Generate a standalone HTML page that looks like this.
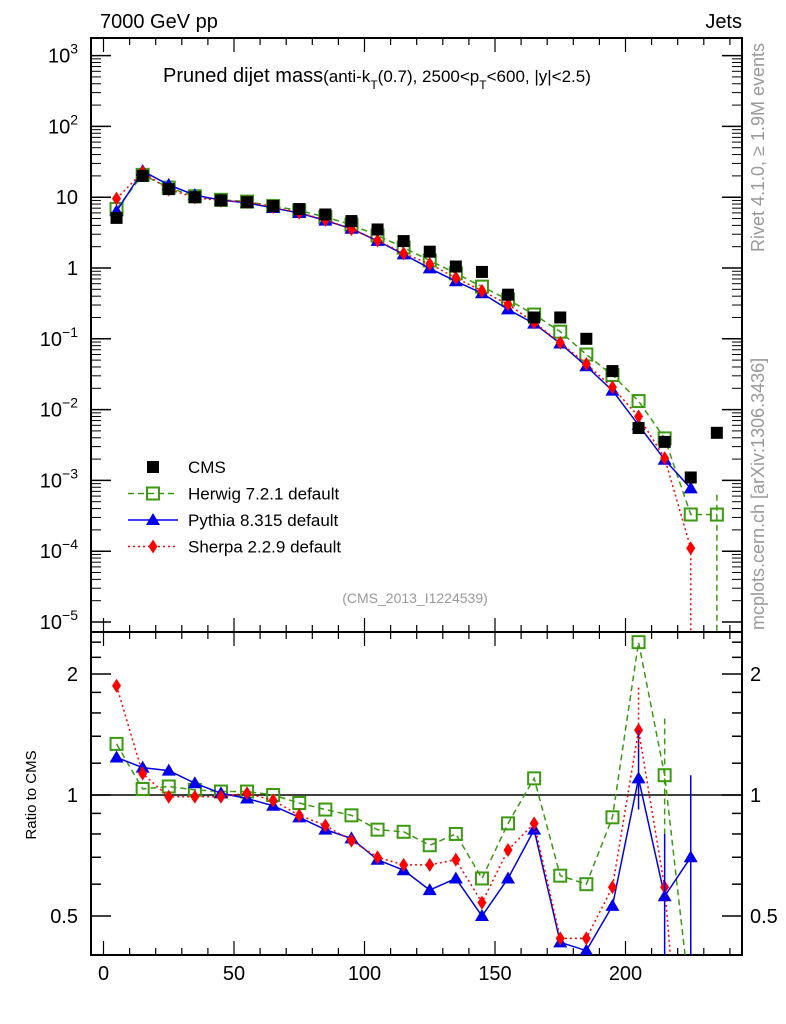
<!DOCTYPE html>
<html><head><meta charset="utf-8"><style>
html,body{margin:0;background:#fff;overflow:hidden;width:786px;height:1024px}
svg{display:block;font-family:"Liberation Sans",sans-serif}
</style></head><body>
<svg id="c" width="786" height="1024" xmlns="http://www.w3.org/2000/svg">
<text x="100" y="28" font-size="20">7000 GeV pp</text>
<text x="742" y="28" font-size="20" text-anchor="end">Jets</text>
<text x="163" y="82" font-size="20">Pruned dijet mass<tspan font-size="17">(anti-k<tspan baseline-shift="sub" font-size="12">T</tspan>(0.7), 2500&lt;p<tspan baseline-shift="sub" font-size="12">T</tspan>&lt;600, |y|&lt;2.5)</tspan></text>
<text transform="translate(764,252) rotate(-90)" font-size="18" fill="#999">Rivet 4.1.0, ≥ 1.9M events</text>
<text transform="translate(764,630) rotate(-90)" font-size="18" fill="#999">mcplots.cern.ch [arXiv:1306.3436]</text>
<text x="415" y="603" font-size="14" fill="#999" text-anchor="middle">(CMS_2013_I1224539)</text>
<text transform="translate(36,795) rotate(-90)" font-size="15" text-anchor="middle">Ratio to CMS</text>
<g id="g"></g>
</svg>
<script>
const bins=[5,15,25,35,45,55,65,75,85,95,105,115,125,135,145,155,165,175,185,195,205,215,225,235];
const cms=[5.1,20,13,10,9,8.5,7.5,6.8,5.7,4.6,3.5,2.4,1.7,1.05,0.88,0.42,0.2,0.2,0.1,0.035,0.0055,0.0035,0.0011,0.0047];
const herwigRatio=[1.34,1.035,1.05,1.03,1.02,1.02,1.0,0.955,0.92,0.89,0.82,0.81,0.75,0.8,0.62,0.85,1.1,0.63,0.6,0.88,2.4,1.12,0.3,0.07];
const pythiaRatio=[1.24,1.17,1.15,1.07,1.01,0.98,0.94,0.88,0.82,0.78,0.69,0.65,0.58,0.62,0.5,0.62,0.82,0.43,0.41,0.53,1.1,0.56,0.7,null];
const sherpaRatio=[1.87,1.13,0.99,0.99,0.99,1.01,0.97,0.89,0.84,0.77,0.7,0.67,0.67,0.69,0.54,0.73,0.85,0.44,0.44,0.59,1.45,0.59,0.1,null];
const xTicks=[0,50,100,150,200];
const ns="http://www.w3.org/2000/svg";
const g=document.getElementById('g');
const L=91,R=742,T1=38,B1=632,B2=955;
const X=v=>103.5+v*2.61;
const Y1=v=>268-Math.log10(v)*70.8;
const Y2=v=>795-Math.log10(v)*402;
function el(t,a,p){const e=document.createElementNS(ns,t);for(const k in a)e.setAttribute(k,a[k]);(p||g).appendChild(e);return e;}
const defs=el('defs',{});
const c1=el('clipPath',{id:'cp1'},defs);el('rect',{x:L,y:T1,width:R-L,height:B1-T1},c1);
const c2=el('clipPath',{id:'cp2'},defs);el('rect',{x:L,y:B1,width:R-L,height:B2-B1},c2);
const f1=el('rect',{x:L,y:T1,width:R-L,height:B1-T1,fill:'none',stroke:'#000','stroke-width':2});


const f2=el('rect',{x:L,y:B1,width:R-L,height:B2-B1,fill:'none',stroke:'#000','stroke-width':2});


for(let d=-5;d<=3;d++){
  const y=Y1(Math.pow(10,d));
  el('line',{x1:L,x2:L+20,y1:y,y2:y,stroke:'#000','stroke-width':1.5});
  el('line',{x1:R-20,x2:R,y1:y,y2:y,stroke:'#000','stroke-width':1.5});
  const t=el('text',{x:78,y:y+7,'font-size':20,'text-anchor':'end'});
  
  
  if(d===0)t.textContent='1';else if(d===1)t.textContent='10';
  else{t.textContent='10';const s=el('tspan',{'font-size':14,dy:-9},t);s.textContent=String(d).replace('-','−');}
  for(let m=2;m<=9;m++){const yy=Y1(m*Math.pow(10,d));if(yy<T1)continue;
    el('line',{x1:L,x2:L+10,y1:yy,y2:yy,stroke:'#000'});el('line',{x1:R-10,x2:R,y1:yy,y2:yy,stroke:'#000'});}
}
for(let v=0;v<=240;v+=10){const x=X(v);const big=v%50===0;
  [[B1,big?14:7],[B2,big?14:7]].forEach(([b,l])=>el('line',{x1:x,x2:x,y1:b,y2:b-l,stroke:'#000','stroke-width':1.2}));
  [[T1,big?14:7],[B1,big?14:7]].forEach(([b,l])=>el('line',{x1:x,x2:x,y1:b,y2:b+l,stroke:'#000','stroke-width':1.2}));
}
xTicks.forEach(v=>{const t=el('text',{x:X(v),y:980,'font-size':20,'text-anchor':'middle'});t.textContent=v;
  
  });
[0.4,0.5,0.6,0.7,0.8,0.9,1,1.2,1.4,1.6,1.8,2,2.2,2.4].forEach(v=>{const y=Y2(v);const big=(v===0.5||v===1||v===2);
  el('line',{x1:L,x2:L+(big?20:10),y1:y,y2:y,stroke:'#000','stroke-width':1.5});
  el('line',{x1:R-(big?20:10),x2:R,y1:y,y2:y,stroke:'#000','stroke-width':1.5});});
[[2,'2'],[1,'1'],[0.5,'0.5']].forEach(([v,s])=>{
  const a=el('text',{x:78,y:Y2(v)+7,'font-size':20,'text-anchor':'end'});a.textContent=s;
  
  
  const b=el('text',{x:750,y:Y2(v)+7,'font-size':20});b.textContent=s;
  
  });
el('line',{x1:L,x2:R,y1:Y2(1),y2:Y2(1),stroke:'#000','stroke-width':1.5});
const series=[
 {name:'herwig',r:herwigRatio,col:'#3a9a10',dash:'6,4',m:'sq'},
 {name:'pythia',r:pythiaRatio,col:'#0000ee',dash:'',m:'tri'},
 {name:'sherpa',r:sherpaRatio,col:'#ff0000',dash:'2,3',m:'dia'}];
function marker(m,x,y,col,p){
  if(m==='sq')return el('rect',{x:x-6,y:y-6,width:12,height:12,fill:'none',stroke:col,'stroke-width':2},p);
  if(m==='tri')return el('polygon',{points:`${x},${y-7} ${x-7},${y+5} ${x+7},${y+5}`,fill:col},p);
  if(m==='dia')return el('polygon',{points:`${x},${y-7} ${x-4.5},${y} ${x},${y+7} ${x+4.5},${y}`,fill:col},p);
  return el('rect',{x:x-6,y:y-6,width:12,height:12,fill:'#000'},p);
}
const gm=el('g',{'clip-path':'url(#cp1)'});
const gr=el('g',{'clip-path':'url(#cp2)'});
series.forEach(s=>{
  const mp=[],rp=[];
  bins.forEach((b,i)=>{if(s.r[i]==null)return;mp.push([X(b),Y1(s.r[i]*cms[i])]);rp.push([X(b),Y2(s.r[i])]);});
  const l1=el('polyline',{points:mp.map(p=>p.join(',')).join(' '),fill:'none',stroke:s.col,'stroke-width':1.5,'stroke-dasharray':s.dash},gm);
  
  
  const l2=el('polyline',{points:rp.map(p=>p.join(',')).join(' '),fill:'none',stroke:s.col,'stroke-width':1.5,'stroke-dasharray':s.dash},gr);
  
  
  mp.forEach(p=>{if(p[1]<B1){const mk=marker(s.m,p[0],p[1],s.col,gm);
    
    }});
  rp.forEach(p=>{const mk=marker(s.m,p[0],p[1],s.col,gr);
    
    });
});
el('line',{x1:X(225),x2:X(225),y1:Y1(1.1e-4),y2:B1,stroke:'#ff0000','stroke-dasharray':'2,3','stroke-width':1.5},gm);
el('line',{x1:X(235),x2:X(235),y1:Y1(3.3e-4*1.9),y2:B1,stroke:'#3a9a10','stroke-dasharray':'6,4','stroke-width':1.5},gm);
el('line',{x1:X(225),x2:X(225),y1:Y2(1.12),y2:Y2(0.35),stroke:'#0000ee','stroke-width':1.5},gr);
el('line',{x1:X(205),x2:X(205),y1:Y2(1.45),y2:Y2(0.92),stroke:'#0000ee','stroke-width':1.5},gr);
el('line',{x1:X(205),x2:X(205),y1:Y2(1.85),y2:Y2(1.3),stroke:'#ff0000','stroke-dasharray':'2,3','stroke-width':1.5},gr);
el('line',{x1:X(215),x2:X(215),y1:Y2(1.55),y2:Y2(0.8),stroke:'#3a9a10','stroke-dasharray':'6,4','stroke-width':1.5},gr);
el('line',{x1:X(215),x2:X(215),y1:Y2(0.8),y2:B2,stroke:'#0000ee','stroke-width':1.5},gr);
bins.forEach((b,i)=>{const mk=marker('cms',X(b),Y1(cms[i]),'#000',gm);
  
  });
const leg=[['CMS','cms','#000',''],['Herwig 7.2.1 default','sq','#3a9a10','6,4'],['Pythia 8.315 default','tri','#0000ee',''],['Sherpa 2.2.9 default','dia','#ff0000','2,3']];
leg.forEach((e,i)=>{const y=467+i*26.5;
  const lg=el('g',{});
  
  
  if(i>0)el('line',{x1:128,x2:178,y1:y,y2:y,stroke:e[2],'stroke-width':1.5,'stroke-dasharray':e[3]},lg);
  marker(e[1],153,y,e[2],lg);
  const t=el('text',{x:188,y:y+6,'font-size':17},lg);t.textContent=e[0];});
</script>
</body></html>
